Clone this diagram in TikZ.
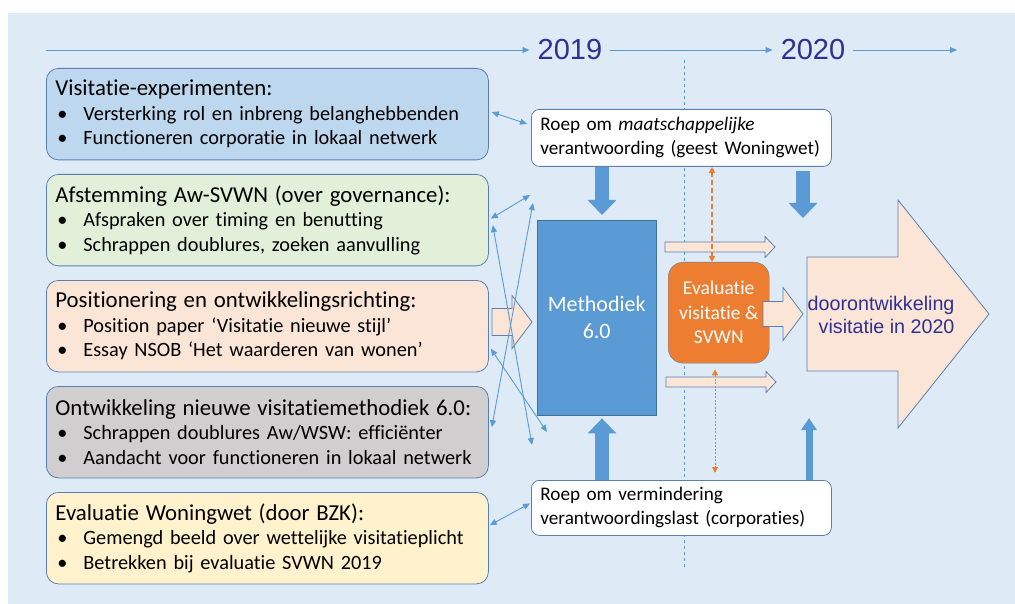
\documentclass[tikz,border=0pt]{standalone}
\usepackage{fontspec}
\setmainfont{Carlito}[Ligatures={NoCommon,NoContextual}, Contextuals=NoAlternate]
\newfontfamily\arialfont{Liberation Sans}
\usetikzlibrary{calc, arrows.meta}
\definecolor{bg}{HTML}{DEEBF7}
\definecolor{edge}{HTML}{5B7FB3}
\definecolor{accent}{HTML}{5B9BD5}
\definecolor{methedge}{HTML}{41719C}
\definecolor{navy}{HTML}{2E3192}
\definecolor{peach}{HTML}{FBE5D6}
\definecolor{orng}{HTML}{ED7D31}
\definecolor{boxblue}{HTML}{BDD7EE}
\definecolor{boxgreen}{HTML}{E2F0D9}
\definecolor{boxpeach}{HTML}{FBE5D6}
\definecolor{boxgrey}{HTML}{D0CECE}
\definecolor{boxyellow}{HTML}{FFF2CC}
\newcommand{\bul}{\makebox[28pt][l]{\hspace{2pt}•}}
\newcommand{\head}[1]{{\fontsize{22.8}{24.5}\selectfont #1}}

\begin{document}
\begin{tikzpicture}[
    x=1pt, y=-1pt,
    thinarr/.style={accent, line width=0.9pt,
        {Triangle[width=6pt,length=7pt]}-{Triangle[width=6pt,length=7pt]}},
    timeline/.style={accent, line width=0.9pt, -{Triangle[width=6pt,length=7pt]}},
    topic/.style={draw=edge, line width=0.8pt, rounded corners=12pt, anchor=north west,
        minimum width=442pt, minimum height=91.5pt, inner xsep=9pt, text width=424pt,
        align=left, font=\fontsize{20.3}{24.5}\selectfont,
        execute at begin node={\hyphenpenalty=10000\relax}},
    roepbox/.style={draw=edge, line width=0.8pt, fill=white, rounded corners=8pt,
        anchor=north west, minimum width=298pt, inner xsep=9pt, text width=282pt,
        align=left, font=\fontsize{19.2}{24}\selectfont,
        execute at begin node={\hyphenpenalty=10000\relax}},
    year/.style={navy, font=\arialfont\fontsize{29}{29}\selectfont, inner xsep=8pt},
    blockarr/.style={draw=edge, fill=peach, line width=0.8pt},
    push/.style={accent, line width=14pt, -{Triangle[width=28pt,length=15pt]}},
    evalarr/.style={orng, {Triangle[width=6pt,length=6pt]}-{Triangle[width=6pt,length=6pt]}},
  ]
  \useasboundingbox (0,0) rectangle (1015,604);
  \fill[bg] (8,13) rectangle (1015,604);

  \coordinate (t0) at (46,50);
  \coordinate (t1) at (957,50);
  \node[year] (y19) at (570,50) {2019};
  \node[year] (y20) at (813,50) {2020};
  \draw[timeline] (t0) -- (y19);
  \draw[timeline] (y19) -- (y20);
  \draw[timeline] (y20) -- (t1);

  \draw[accent, line width=0.7pt, dashed] (684,60) -- (684,567);

  \node[topic, fill=boxblue] (vis) at (46,68) {\head{Visitatie-experimenten:}\\
    \bul Versterking rol en inbreng belanghebbenden\\
    \bul Functioneren corporatie in lokaal netwerk};
  \node[topic, fill=boxgreen] (afs) at (46,174) {\head{Afstemming Aw-SVWN (over governance):}\\
    \bul Afspraken over timing en benutting\\
    \bul Schrappen doublures, zoeken aanvulling};
  \node[topic, fill=boxpeach] (pos) at (46,280) {\head{Positionering en ontwikkelingsrichting:}\\
    \bul Position paper ‘Visitatie nieuwe stijl’\\
    \bul Essay NSOB ‘Het waarderen van wonen’};
  \node[topic, fill=boxgrey] (ontw) at (46,386) {\head{Ontwikkeling nieuwe visitatiemethodiek 6.0:}\\
    \bul Schrappen doublures Aw/WSW: efficiënter\\
    \bul Aandacht voor functioneren in lokaal netwerk};
  \node[topic, fill=boxyellow] (evw) at (46,492) {\head{Evaluatie Woningwet (door BZK):}\\
    \bul Gemengd beeld over wettelijke visitatieplicht\\
    \bul Betrekken bij evaluatie SVWN 2019};

  \node[roepbox, minimum height=57pt] (roep1) at (531,109)
    {Roep om \textit{maatschappelijke}\\verantwoording (geest Woningwet)};
  \node[roepbox, minimum height=55pt] (roep2) at (531,480)
    {Roep om vermindering\\verantwoordingslast (corporaties)};

  \node[draw=methedge, fill=accent, text=white, anchor=north west, minimum width=119pt,
    minimum height=195pt, align=center, font=\fontsize{22}{27}\selectfont] (meth) at (537,220)
    {Methodiek\\6.0};
  \node[draw=edge, fill=orng, text=white, rounded corners=15pt, anchor=north west,
    minimum width=101pt, minimum height=101pt, align=center,
    font=\fontsize{19.5}{24.5}\selectfont] (eval) at (668,262)
    {Evaluatie\\visitatie \&\\SVWN};

  \foreach \xa/\xh/\xb/\yc/\sh/\hh in {492/512/532/322/13.5/26.5, 665/765/775/247/5/10.5,
      666/766/776/382/5/10.5, 763/783/803/314/12.5/26.5, 807/898/989/314/57/114}{
      \draw[blockarr] (\xa,\yc-\sh) -- (\xh,\yc-\sh) -- (\xh,\yc-\hh) -- (\xb,\yc)
        -- (\xh,\yc+\hh) -- (\xh,\yc+\sh) -- (\xa,\yc+\sh) -- cycle;
    }
  \node[navy, font=\arialfont\fontsize{19.7}{23}\selectfont, align=right, anchor=east]
    (door) at (958,315) {doorontwikkeling\\visitatie in 2020};

  \coordinate (c1) at (602,0);
  \coordinate (c2) at (803,218);
  \coordinate (c3) at (809,418);
  \draw[push, shorten >=5pt] (roep1.south -| c1) -- (meth.north -| c1);
  \draw[push, shorten >=3pt] (roep2.north -| c1) -- (meth.south -| c1);
  \draw[push, shorten <=4pt] (roep1.south -| c2) -- (c2);
  \draw[accent, line width=7pt, -{Triangle[width=15pt,length=12pt]}] (roep2.north -| c3) -- (c3);

  \coordinate (o1) at (712,0);
  \coordinate (o2) at (715,0);
  \draw[evalarr, line width=1.8pt, dash pattern=on 5pt off 3pt] (roep1.south -| o1) -- (eval.north -| o1);
  \draw[evalarr, line width=1pt, dash pattern=on 2pt off 1.5pt, shorten <=6pt, shorten >=7pt]
    (eval.south -| o2) -- (roep2.north -| o2);

  \coordinate (f1) at (530,195);
  \coordinate (f2) at (532,445);
  \coordinate (f3) at (533,203);
  \coordinate (f4) at (547,432);
  \draw[thinarr] ($(vis.east)+(3,-2)$) -- ($(roep1.west)+(-4,-14)$);
  \draw[thinarr] ($(afs.east)+(2,-1.5)$) -- (f1);
  \draw[thinarr] ($(afs.east)+(4,5)$) -- (f2);
  \draw[thinarr] (f3) -- ($(ontw.east)+(3,-5)$);
  \draw[thinarr] ($(pos.east)+(2,22.5)$) -- (f4);
  \draw[thinarr] ($(evw.east)+(1,-13)$) -- ($(roep2.west)+(-1,-4.5)$);
\end{tikzpicture}
\end{document}
